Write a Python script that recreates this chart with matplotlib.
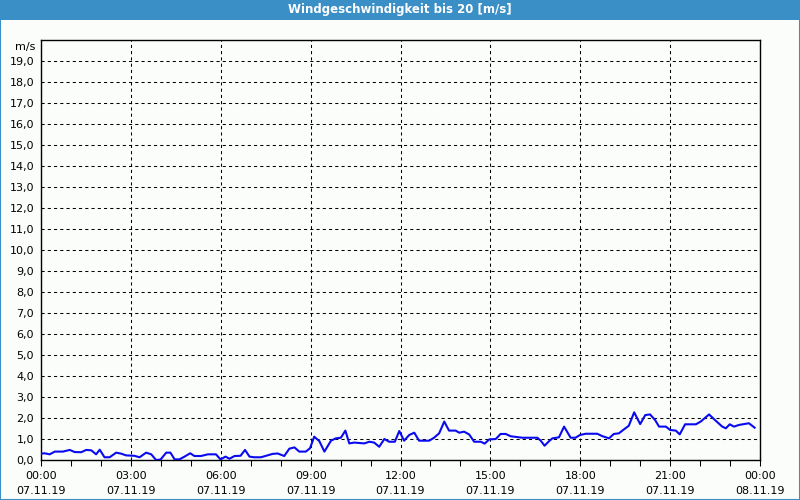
import matplotlib
matplotlib.use('Agg')
import matplotlib.pyplot as plt
import matplotlib.patches as mpatch
from matplotlib.ticker import MultipleLocator, FixedLocator

###############################################################################
# Data (hours since 07.11.19 00:00, wind speed in m/s)
hours = [0.0, 0.12, 0.29, 0.46, 0.73, 0.96, 1.12, 1.34, 1.51, 1.68, 1.84, 1.96,
         2.12, 2.29, 2.51, 2.68, 2.84, 3.12, 3.29, 3.51, 3.68, 3.84, 3.99,
         4.18, 4.32, 4.46, 4.62, 4.79, 4.98, 5.12, 5.34, 5.57, 5.84, 5.99,
         6.16, 6.29, 6.46, 6.66, 6.81, 6.96, 7.12, 7.34, 7.51, 7.73, 7.9,
         8.12, 8.29, 8.46, 8.62, 8.84, 8.98, 9.12, 9.29, 9.46, 9.68, 9.84,
         10.01, 10.16, 10.29, 10.46, 10.79, 10.96, 11.12, 11.29, 11.46, 11.62,
         11.81, 11.96, 12.12, 12.29, 12.46, 12.62, 12.96, 13.12, 13.29, 13.46,
         13.62, 13.84, 13.96, 14.12, 14.29, 14.46, 14.68, 14.81, 14.96, 15.18,
         15.34, 15.51, 15.68, 16.07, 16.57, 16.68, 16.81, 16.96, 17.07, 17.29,
         17.46, 17.68, 17.84, 17.99, 18.18, 18.57, 18.73, 18.96, 19.12, 19.29,
         19.46, 19.62, 19.8, 20.0, 20.17, 20.33, 20.5, 20.63, 20.86, 21.0,
         21.19, 21.32, 21.5, 21.86, 22.02, 22.3, 22.5, 22.74, 22.86, 22.99,
         23.13, 23.3, 23.63, 23.82]
speed = [0.30, 0.32, 0.27, 0.40, 0.40, 0.48, 0.38, 0.37, 0.48, 0.46, 0.27, 0.49,
         0.13, 0.13, 0.35, 0.30, 0.22, 0.20, 0.13, 0.35, 0.27, 0.00, 0.02,
         0.35, 0.35, 0.03, 0.03, 0.16, 0.32, 0.19, 0.19, 0.27, 0.27, 0.03,
         0.16, 0.06, 0.19, 0.20, 0.48, 0.16, 0.13, 0.13, 0.20, 0.29, 0.31,
         0.19, 0.54, 0.60, 0.40, 0.40, 0.56, 1.11, 0.90, 0.40, 0.92, 1.03,
         1.06, 1.40, 0.79, 0.83, 0.79, 0.87, 0.83, 0.63, 1.00, 0.87,
         0.87, 1.38, 0.92, 1.19, 1.30, 0.92, 0.92, 1.06, 1.27, 1.83,
         1.40, 1.40, 1.30, 1.35, 1.22, 0.87, 0.87, 0.78, 0.98, 1.00,
         1.24, 1.24, 1.13, 1.06, 1.06, 0.92, 0.68, 0.90, 1.03, 1.08,
         1.59, 1.06, 1.06, 1.19, 1.25, 1.25, 1.14, 1.03, 1.24, 1.27,
         1.46, 1.63, 2.27, 1.71, 2.14, 2.17, 1.90, 1.59, 1.59, 1.43,
         1.40, 1.22, 1.70, 1.70, 1.83, 2.17, 1.90, 1.59, 1.51, 1.70,
         1.59, 1.67, 1.75, 1.54]

x_ticks = [0, 3, 6, 9, 12, 15, 18, 21, 24]
x_labels = ['00:00\n07.11.19', '03:00\n07.11.19', '06:00\n07.11.19',
            '09:00\n07.11.19', '12:00\n07.11.19', '15:00\n07.11.19',
            '18:00\n07.11.19', '21:00\n07.11.19', '00:00\n08.11.19']
y_ticks = list(range(0, 20))
y_labels = ['%d,0' % v for v in y_ticks]
title = 'Windgeschwindigkeit bis 20 [m/s]'

###############################################################################
bg = '#fbfdfb'
frame_blue = '#3b8fc7'
plt.rcParams['font.family'] = 'DejaVu Sans'

fig = plt.figure(figsize=(8, 5), dpi=100, facecolor=bg)

# Title bar and outer border
fig.patches.append(mpatch.Rectangle((0, 0.96), 1, 0.04, transform=fig.transFigure,
                                    facecolor=frame_blue, edgecolor='none', zorder=0))
fig.patches.append(mpatch.Rectangle((0.0006, 0.001), 0.9988, 0.998, transform=fig.transFigure,
                                    facecolor='none', edgecolor=frame_blue, linewidth=1.5, zorder=0))
fig.text(0.5, 0.98, title, color='white', fontsize=8.5, fontweight='bold',
         ha='center', va='center')

ax = fig.add_axes([41 / 800, 40 / 500, 719 / 800, 420 / 500])
ax.set_facecolor(bg)
ax.plot(hours, speed, color='#0a0af0', linewidth=1.5, zorder=3)

ax.set_xlim(0, 24)
ax.set_ylim(0, 20)
ax.xaxis.set_major_locator(FixedLocator(x_ticks))
ax.set_xticklabels(x_labels)
ax.xaxis.set_minor_locator(MultipleLocator(1))
ax.set_yticks(y_ticks)
ax.set_yticklabels(y_labels)

ax.grid(True, which='major', color='black', linestyle=(0, (3, 3)), linewidth=0.75)
ax.tick_params(axis='x', which='major', length=4, width=0.75, pad=4,
               labelsize=8, color='black')
ax.tick_params(axis='x', which='minor', length=4, width=0.75)
ax.tick_params(axis='y', which='major', length=0, pad=5, labelsize=8)
for s in ax.spines.values():
    s.set_linewidth(1)
    s.set_color('black')
for lbl in ax.get_xticklabels():
    lbl.set_linespacing(1.65)

fig.text(35 / 800, 1 - 47 / 500, 'm/s', fontsize=8, ha='right', va='center')

fig.savefig('out.png', dpi=100, facecolor=bg)
